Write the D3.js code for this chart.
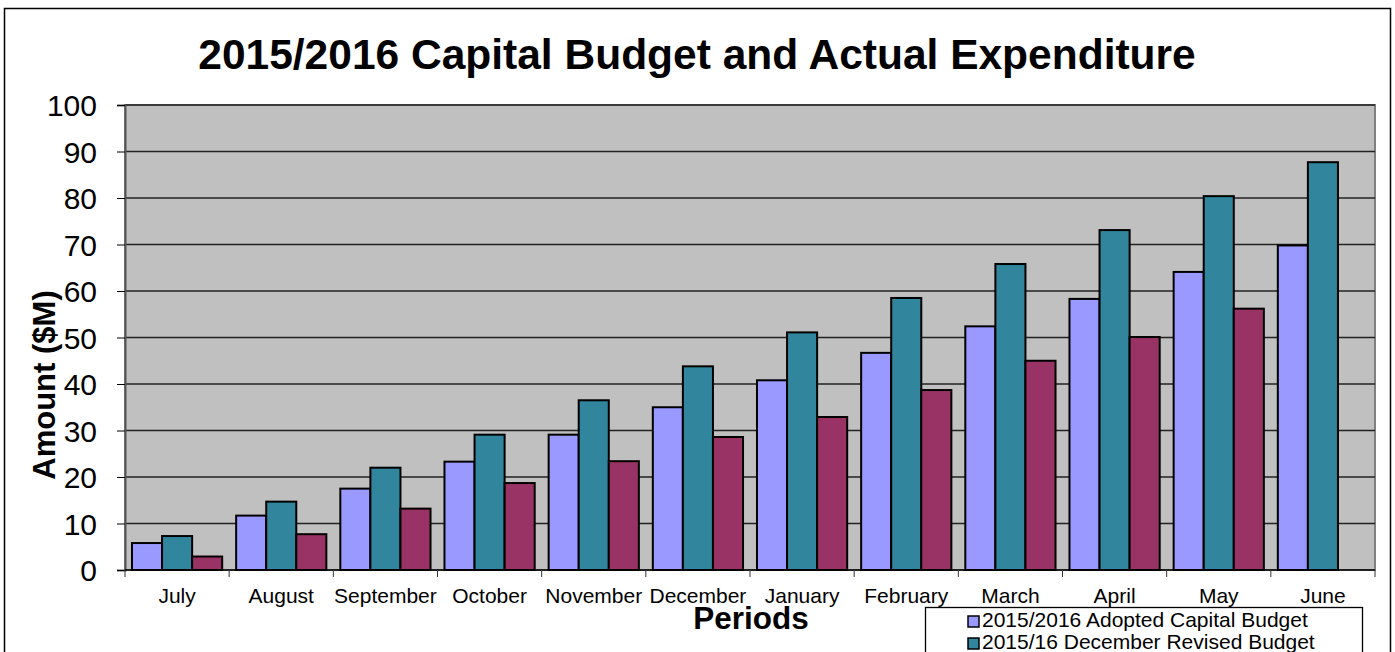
<!DOCTYPE html>
<html>
<head>
<meta charset="utf-8">
<style>
  body { margin: 0; background: #fff; }
  svg { display: block; font-family: Arial, "Liberation Sans", sans-serif; }
</style>
</head>
<body>
<svg width="1395" height="652"></svg>
<script src="https://d3js.org/d3.v7.min.js"></script>
<script>
// values ($M)
var months = ["July", "August", "September", "October", "November", "December",
              "January", "February", "March", "April", "May", "June"];
var adopted = [5.8, 11.7, 17.5, 23.3, 29.1, 35.0, 40.8, 46.7, 52.4, 58.3, 64.1, 69.8];
var revised = [7.3, 14.7, 22.0, 29.1, 36.5, 43.8, 51.1, 58.5, 65.8, 73.1, 80.4, 87.7];
var actual  = [2.9, 7.7, 13.2, 18.7, 23.4, 28.6, 32.9, 38.7, 45.0, 50.1, 56.2, null];
// only the first two legend rows are visible, the rest falls below the picture
var legendNames = ["2015/2016 Adopted Capital Budget", "2015/16 December Revised Budget"];
var yTicks = [0, 10, 20, 30, 40, 50, 60, 70, 80, 90, 100];

var colors = ["#9999ff", "#31859c", "#993366"];
var allSeries = [adopted, revised, actual];

var svg = d3.select("svg");
var plot = {left: 125, right: 1375, top: 105, bottom: 570};

// outer chart border
svg.append("rect")
    .attr("x", 4.5).attr("y", 8.5)
    .attr("width", 1386).attr("height", 700)
    .attr("fill", "#fff").attr("stroke", "#000").attr("stroke-width", 1.5);

svg.append("text")
    .attr("x", 697).attr("y", 69)
    .attr("text-anchor", "middle")
    .attr("font-size", 42.5).attr("font-weight", "bold")
    .text("2015/2016 Capital Budget and Actual Expenditure");

var x = d3.scaleBand()
    .domain(months)
    .range([plot.left, plot.right])
    .paddingInner(0.134)
    .paddingOuter(0.067);

var xs = d3.scaleBand()
    .domain(d3.range(3))
    .range([0, x.bandwidth()]);

var y = d3.scaleLinear()
    .domain([0, 100])
    .range([plot.bottom, plot.top]);

// plot background
svg.append("rect")
    .attr("x", plot.left).attr("y", plot.top)
    .attr("width", plot.right - plot.left).attr("height", plot.bottom - plot.top)
    .attr("fill", "#c0c0c0")
    .attr("stroke", "#808080").attr("stroke-width", 2);

// gridlines
svg.append("g")
  .selectAll("line")
  .data(yTicks.slice(1))
  .enter().append("line")
    .attr("x1", plot.left).attr("x2", plot.right)
    .attr("y1", function(d) { return y(d); })
    .attr("y2", function(d) { return y(d); })
    .attr("stroke", "#222").attr("stroke-width", 1.3);

// bars
allSeries.forEach(function(vals, s) {
  svg.append("g")
    .selectAll("rect")
    .data(months.map(function(m, i) { return {m: m, v: vals[i]}; }).filter(function(d) { return d.v != null; }))
    .enter().append("rect")
      .attr("x", function(d) { return x(d.m) + xs(s); })
      .attr("y", function(d) { return y(d.v); })
      .attr("width", xs.bandwidth())
      .attr("height", function(d) { return y(0) - y(d.v); })
      .attr("fill", colors[s])
      .attr("stroke", "#000").attr("stroke-width", 2);
});

// y axis
var yAxis = svg.append("g")
    .attr("transform", "translate(" + plot.left + ",0)")
    .call(d3.axisLeft(y).tickValues(yTicks).tickSize(8).tickPadding(20));
yAxis.select(".domain").attr("stroke", "#555").attr("stroke-width", 2);
yAxis.selectAll(".tick line").attr("stroke", "#000");
yAxis.selectAll(".tick text")
    .attr("font-size", 30).attr("font-family", "Arial, 'Liberation Sans', sans-serif")
    .attr("fill", "#000").attr("dy", "0.36em");

// x axis: ticks at category boundaries
svg.append("line")
    .attr("x1", plot.left).attr("x2", plot.right)
    .attr("y1", plot.bottom).attr("y2", plot.bottom)
    .attr("stroke", "#000").attr("stroke-width", 1.5);
svg.append("g")
  .selectAll("line")
  .data(d3.range(months.length + 1))
  .enter().append("line")
    .attr("x1", function(i) { return plot.left + i * x.step(); })
    .attr("x2", function(i) { return plot.left + i * x.step(); })
    .attr("y1", plot.bottom).attr("y2", plot.bottom + 7)
    .attr("stroke", "#333");
svg.append("g")
  .selectAll("text")
  .data(months)
  .enter().append("text")
    .attr("x", function(d) { return x(d) + x.bandwidth() / 2; })
    .attr("y", 603)
    .attr("text-anchor", "middle")
    .attr("font-size", 21)
    .text(function(d) { return d; });

svg.append("text")
    .attr("x", 751).attr("y", 629)
    .attr("text-anchor", "middle")
    .attr("font-size", 31.5).attr("font-weight", "bold")
    .text("Periods");

svg.append("text")
    .attr("transform", "translate(55,385) rotate(-90)")
    .attr("text-anchor", "middle")
    .attr("font-size", 31).attr("font-weight", "bold")
    .text("Amount ($M)");

// legend
var legend = svg.append("g").attr("transform", "translate(925,607)");
legend.append("rect")
    .attr("x", 0.5).attr("y", 0.5)
    .attr("width", 437).attr("height", 80)
    .attr("fill", "#fff").attr("stroke", "#000").attr("stroke-width", 1.3);
var item = legend.selectAll(".item")
  .data(legendNames)
  .enter().append("g")
    .attr("transform", function(d, i) { return "translate(0," + (i * 22) + ")"; });
item.append("rect")
    .attr("x", 43).attr("y", 9)
    .attr("width", 11).attr("height", 11)
    .attr("fill", function(d, i) { return colors[i]; })
    .attr("stroke", "#000").attr("stroke-width", 1.5);
item.append("text")
    .attr("x", 57).attr("y", 20)
    .attr("font-size", 21)
    .text(function(d) { return d; });
</script>
</body>
</html>
